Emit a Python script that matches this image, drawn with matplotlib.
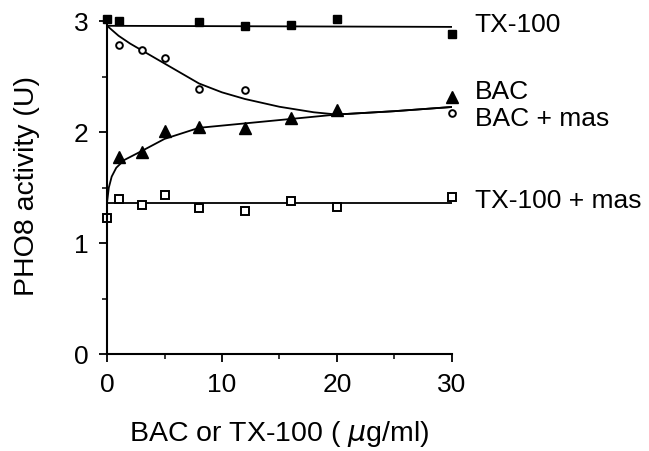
import matplotlib.pyplot as plt

plt.rcParams['font.family'] = ['Liberation Sans', 'DejaVu Sans']

# Measured points
x_tx = [0, 1, 8, 12, 16, 20, 30]
y_tx = [3.02, 3.00, 2.99, 2.96, 2.97, 3.02, 2.89]

x_bacmas = [1, 3, 5, 8, 12, 30]
y_bacmas = [2.79, 2.74, 2.67, 2.39, 2.38, 2.17]

x_bac = [1, 3, 5, 8, 12, 16, 20, 30]
y_bac = [1.78, 1.82, 2.01, 2.05, 2.04, 2.13, 2.20, 2.32]

x_txmas = [0, 1, 3, 5, 8, 12, 16, 20, 30]
y_txmas = [1.23, 1.40, 1.34, 1.43, 1.32, 1.29, 1.38, 1.33, 1.42]

# Hand-drawn fitted curves
cx_tx = [0, 30.3]
cy_tx = [2.96, 2.95]
cx_bacmas = [0, 1, 2, 3, 5, 8, 10, 12, 15, 18, 20, 25, 30.3]
cy_bacmas = [2.96, 2.87, 2.80, 2.74, 2.62, 2.44, 2.36, 2.30, 2.23, 2.18, 2.16, 2.19, 2.23]
cx_bac = [0, 0.15, 0.4, 0.8, 1.5, 3, 5, 8, 12, 16, 20, 25, 30.3]
cy_bac = [1.37, 1.50, 1.60, 1.68, 1.75, 1.83, 1.94, 2.04, 2.08, 2.12, 2.16, 2.19, 2.23]
cx_txmas = [0, 30.3]
cy_txmas = [1.36, 1.36]

labels = ['TX-100', 'BAC', 'BAC + mas', 'TX-100 + mas']
label_y = [2.90, 2.30, 2.06, 1.32]  # baselines

fig = plt.figure(figsize=(6.49, 4.51), dpi=100)
ax = fig.add_axes([0.165, 0.215, 0.531, 0.745])

lw = 1.3
ax.plot(cx_tx, cy_tx, color='black', lw=lw)
ax.plot(cx_bacmas, cy_bacmas, color='black', lw=lw)
ax.plot(cx_bac, cy_bac, color='black', lw=lw)
ax.plot(cx_txmas, cy_txmas, color='black', lw=lw)

ax.plot(x_tx, y_tx, 's', color='black', ms=6.2, clip_on=False)
ax.plot(x_bacmas, y_bacmas, 'o', mfc='white', mec='black', mew=1.4, ms=4.8, clip_on=False)
ax.plot(x_bac, y_bac, '^', color='black', ms=9, clip_on=False)
ax.plot(x_txmas, y_txmas, 's', mfc='white', mec='black', mew=1.4, ms=5.2, clip_on=False)

for lab, yy in zip(labels, label_y):
    ax.text(32, yy, lab, fontsize=19, va='baseline', ha='left')

ax.set_xlim(0, 30)
ax.set_ylim(0, 3.03)
ax.set_xticks([0, 10, 20, 30])
ax.set_xticks([5, 15, 25], minor=True)
ax.set_yticks([0, 1, 2, 3])
ax.set_yticks([0.5, 1.5, 2.5], minor=True)
ax.tick_params(labelsize=19, width=1.3, length=5.5, direction='out')
ax.tick_params(axis='x', pad=8)
ax.tick_params(axis='y', pad=8)
ax.tick_params(which='minor', width=1.1, length=3.5, direction='out')

for side in ['top', 'right']:
    ax.spines[side].set_visible(False)
for side in ['left', 'bottom']:
    ax.spines[side].set_linewidth(1.5)

ax.set_xlabel('BAC or TX-100 ( $\\mu$g/ml)', fontsize=20.5, labelpad=16)
ax.set_ylabel('PHO8 activity (U)', fontsize=20.5, labelpad=24)

fig.savefig('out.png', dpi=100)
